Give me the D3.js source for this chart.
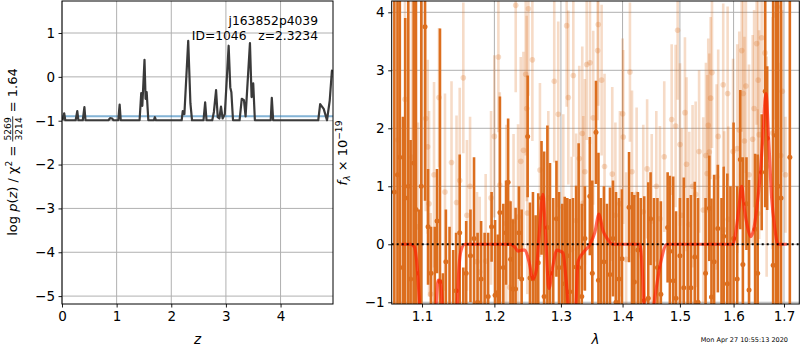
<!DOCTYPE html>
<html>
<head>
<meta charset="utf-8">
<script src="https://cdn.jsdelivr.net/npm/d3@7"></script>
<style>
  body { margin: 0; background: #fff; }
  svg text { font-family: "DejaVu Sans", sans-serif; fill: #000; }
</style>
</head>
<body>
<svg id="fig" width="800" height="350"></svg>
<script>
// ---- redshift probability, log p(z) ----
const zGrid = [0.01,0.04,0.06, 0.25,0.28,0.30, 0.38,0.41,0.43, 0.85,0.88,0.92,0.94,
  1.03,1.055,1.075, 1.42,1.45,1.47,1.51,1.53,1.55,1.58, 1.68,1.70,1.72,
  2.19,2.21,2.24,2.31,2.35,2.38, 2.59,2.62,2.645,
  2.75,2.78,2.82,2.85,2.88,2.91,2.94,2.98,3.05,3.08,3.10,3.13,
  3.25,3.29,3.33,3.36,3.44,3.47,3.50,3.53, 3.82,3.84,3.865,
  4.69,4.725,4.79,4.85,4.90,4.94,4.96];
const logPz = [-0.99,-0.83,-0.99, -0.99,-0.78,-0.99, -0.99,-0.69,-0.99, -0.99,-0.94,-0.95,-0.99,
  -0.99,-0.63,-0.99, -0.99,-0.37,-0.66,0.39,-0.50,-0.35,-0.99, -0.99,-0.92,-0.99,
  -0.99,-0.78,-0.85,0.82,-0.60,-0.99, -0.99,-0.58,-0.99,
  -0.99,-0.80,-0.30,-0.92,-0.95,-0.68,-0.95,-0.85,0.71,-0.24,-0.35,-0.99,
  -0.99,-0.50,-0.53,-0.90,0.77,-0.46,-0.15,-0.99, -0.99,-0.48,-0.99,
  -0.99,-0.62,-0.73,-0.99,-0.54,0.14,0.12];
const pzReference = -0.9;
const zTicks = [0, 1, 2, 3, 4];
const logPTicks = [1, 0, -1, -2, -3, -4, -5];

// ---- spectrum, first orientation (opaque) ----
const waveA = [1.064,1.068,1.071,1.075,1.078,1.082,1.085,1.089,1.092,1.096,1.099,1.104,1.108,1.112,1.117,1.120,
  1.124,1.128,1.132,1.137,1.142,1.146,1.151,1.156,1.160,1.166,1.171,1.176,1.181,1.186,1.191,1.196,
  1.201,1.205,1.208,1.213,1.217,1.220,1.2235,1.227,1.231,1.236,1.240,1.249,1.2525,1.257,1.261,1.265,
  1.270,1.274,1.279,1.283,1.288,1.293,1.297,1.302,1.306,1.310,1.314,1.319,1.324,1.328,1.333,1.338,
  1.346,1.350,1.356,1.360,1.364,1.369,1.374,1.379,1.384,1.389,1.394,1.399,1.411,1.416,1.420,1.426,
  1.431,1.437,1.444,1.448,1.454,1.460,1.466,1.478,1.482,1.488,1.493,1.500,1.507,1.514,1.520,1.527,
  1.533,1.547,1.554,1.558,1.563,1.570,1.577,1.581,1.588,1.594,1.600,1.607,1.613,1.618,1.625,1.630,
  1.642,1.647,1.655,1.662,1.666,1.678,1.684,1.688,1.694,1.712];
const fluxA = [0.9,1.2,1.5,-0.4,0.8,1.0,-0.6,1.4,0.6,-0.5,1.0,3.75,0.3,-0.5,-1.2,0.4,
  -0.64,-1.5,-0.3,-1.1,-1.3,-0.8,0.2,-1.4,-0.5,-0.2,0.1,-1.0,-0.6,-1.2,-0.9,0.3,
  -0.88,-0.83,0.55,-0.4,0.2,1.07,-0.26,-0.77,-0.77,0.2,-0.6,1.86,-0.58,-0.6,-1.3,-0.32,
  0.8,-0.9,0.29,-0.5,-1.2,0.44,-0.4,-1.1,-0.68,-0.2,-0.82,-1.3,-0.39,-0.4,-0.9,0.1,
  0.83,-0.5,1.93,-0.62,-1.2,-0.3,-1.1,-0.52,0.1,-1.0,-0.6,-0.25,0.64,-1.3,-0.65,-0.1,
  -1.5,-0.97,-0.93,0.44,-1.2,-0.4,-0.86,0.29,-0.12,-0.63,-0.93,-0.2,-0.75,-1.2,-0.75,-0.22,
  -1.0,-0.5,0.62,-0.91,-0.3,0.27,-1.1,0.14,-0.68,-1.2,0.1,-0.6,1.46,-0.35,0.70,-0.79,
  0.26,-0.5,1.24,2.64,1.83,-0.36,1.88,1.0,0.8,1.5];
const errA = [4.5,4.5,4.0,2.6,3.1,4.5,2.4,4.0,4.0,1.1,4.5,3.0,1.0,0.8,1.5,0.9,
  4.36,1.0,0.9,1.4,1.2,1.0,1.35,1.0,0.9,0.8,1.4,1.2,1.0,1.4,1.1,0.6,
  1.3,1.0,2.0,1.1,0.9,1.1,1.0,1.2,1.4,0.8,1.2,1.05,1.3,1.5,1.8,1.2,
  0.98,2.5,1.76,1.9,2.0,1.0,1.3,1.8,1.5,1.0,1.6,2.1,1.4,2.14,1.6,0.9,
  1.02,1.6,0.89,2.2,2.0,1.3,1.8,1.5,1.0,1.9,1.4,1.2,0.95,2.2,1.5,1.0,
  2.3,1.8,2.0,0.8,2.0,1.2,1.6,0.95,1.3,1.8,1.5,1.0,1.9,2.0,1.6,1.3,
  1.8,1.3,0.91,1.7,1.5,1.1,1.9,1.2,1.9,2.2,2.0,1.6,1.2,1.85,0.8,1.9,
  1.3,2.05,1.0,2.0,1.24,4.8,3.0,4.5,4.0,5.0];

// ---- spectrum, second orientation (translucent) ----
const waveB = [1.0687,1.0777,1.0868,1.0946,1.1049,1.1075,1.1093,1.1115,1.1160,1.1227,1.1308,1.1397,1.1466,1.1510,
  1.1560,1.1610,1.1654,1.1752,1.1790,1.1875,1.1952,1.2000,1.2058,1.2078,1.2174,1.2224,1.2280,1.2312,
  1.2347,1.2387,1.2427,1.2461,1.2476,1.2485,1.2501,1.2561,1.2676,1.2804,1.2896,1.2958,1.3037,1.3090,
  1.3116,1.3169,1.3195,1.3240,1.3290,1.3338,1.3354,1.3380,1.3409,1.3462,1.3515,1.3587,1.3597,1.3652,
  1.3700,1.3828,1.3880,1.3956,1.4002,1.4012,1.4060,1.4125,1.4160,1.4239,1.4353,1.4420,1.4500,1.4580,
  1.4644,1.4720,1.4852,1.4923,1.4959,1.5001,1.5031,1.5091,1.5120,1.5170,1.5230,1.5287,1.5350,1.5427,
  1.5477,1.5500,1.5520,1.5540,1.5565,1.5590,1.5677,1.5707,1.5802,1.5821,1.5886,1.5898,1.5990,1.6071,
  1.6110,1.6157,1.6187,1.6210,1.6239,1.6300,1.6371,1.6400,1.6450,1.6470,1.6481,1.6500,1.6549,1.6615,
  1.6649,1.6771,1.6832,1.6864,1.6933,1.6965,1.7030];
const fluxB = [1.8,2.5,1.5,0.3,2.17,1.68,0.70,-0.86,1.2,2.53,0.9,1.41,0.72,1.1,
  2.87,0.5,1.0,-0.3,-0.48,-0.29,0.8,1.86,3.23,1.02,0.36,-0.74,0.40,4.12,
  0.47,1.43,1.62,2.93,2.34,0.54,4.06,3.18,1.28,0.80,2.81,2.24,0.64,3.77,
  2.53,-0.09,2.91,0.41,1.48,1.91,0.71,1.25,3.10,3.13,2.18,3.34,3.79,2.83,
  1.34,1.21,0.5,0.70,2.25,1.85,-0.26,2.97,1.25,0.86,0.56,1.3,0.4,1.0,
  0.44,1.51,2.15,2.04,3.69,1.72,0.50,2.27,1.38,0.34,1.0,0.86,1.6,0.59,
  1.53,1.22,2.05,1.59,2.52,2.96,1.16,1.86,2.75,0.25,2.60,0.43,1.6,1.65,
  1.97,3.34,2.60,1.78,2.73,1.2,1.81,2.34,3.46,0.53,2.83,1.89,3.56,3.30,
  1.34,1.92,3.95,4.09,1.53,2.64,1.2];
const errB = [3.0,2.5,2.8,1.8,1.6,1.5,1.6,1.4,1.6,1.2,1.7,1.4,1.5,1.6,
  1.3,1.3,1.2,1.2,1.3,1.5,1.5,1.4,1.3,1.6,1.7,1.5,1.5,1.5,
  1.6,1.8,1.7,1.4,1.6,1.4,1.5,1.4,1.5,1.5,1.4,1.6,1.6,1.4,
  1.5,1.6,1.4,1.5,1.6,1.5,1.5,1.6,1.3,1.4,1.5,1.2,1.4,1.3,
  1.6,1.5,1.6,1.6,1.3,1.5,1.5,1.2,1.4,1.5,1.5,1.2,1.5,1.3,
  1.6,1.3,1.3,1.4,1.2,1.4,1.5,1.3,1.5,1.6,1.4,1.6,1.4,1.6,
  1.6,1.7,1.5,1.7,1.4,1.3,1.6,1.5,1.4,1.7,1.5,1.6,1.6,1.8,
  1.7,1.4,1.6,1.8,1.5,1.9,1.8,1.7,1.4,1.8,1.6,1.8,1.3,1.6,
  1.9,2.0,1.8,1.6,1.6,1.4,1.0];

// ---- best-fit model ----
const modelWave = [1.0725,1.085,1.090,1.094,1.098,1.104,1.112,1.118,1.1215,1.125,1.128,1.134,1.142,1.147,1.150,1.153,1.158,
  1.2228,1.230,1.2346,1.240,1.245,1.251,1.257,1.262,1.266,1.2722,1.276,1.2815,1.287,1.2939,1.299,1.3032,1.308,1.3142,1.3222,1.327,
  1.335,1.3462,1.354,1.3610,1.367,1.3741,1.3840,1.4296,1.434,1.4383,1.447,1.4557,1.466,1.4769,
  1.5988,1.604,1.610,1.6156,1.621,1.627,1.6332,1.639,1.645,1.651,1.657,1.6635,1.669,1.675,1.681,1.6877,1.706];
const modelFlux = [0.0,0.0,-0.05,-0.45,-1.3,-1.8,-1.6,-1.2,-0.62,-0.64,-1.3,-1.8,-1.7,-1.2,-0.4,-0.1,0.0,
  0.0,-0.05,-0.12,-0.1,-0.1,-0.3,-0.6,-0.45,0.1,0.86,0.2,-0.76,-0.4,-0.1,-0.12,-0.15,-0.6,-1.3,-1.3,-0.3,
  -0.15,0.0,0.2,0.52,0.25,0.1,0.0,0.0,-0.5,-1.3,-1.5,-0.9,-0.3,0.0,
  0.0,0.2,0.6,1.0,0.6,0.3,0.13,0.25,0.6,1.1,1.8,2.6,1.8,0.8,0.3,0.0,0.0];
const waveTicks = [1.1, 1.2, 1.3, 1.4, 1.5, 1.6, 1.7];
const fluxTicks = [-1, 0, 1, 2, 3, 4];

const specColor = "#dc6e1e";
const gridColor = "#b0b0b0";
const fs = 13.5;

const svg = d3.select("#fig");

// panel geometry
const L = { x0: 62, x1: 333, y0: 1, y1: 304 };
const R = { x0: 391.7, x1: 799.3, y0: 1, y1: 304 };

const xL = d3.scaleLinear().domain([0, 4.96]).range([L.x0, L.x1]);
const yL = d3.scaleLinear().domain([-5.18, 1.73]).range([L.y1, L.y0]);
const xR = d3.scaleLog().domain([1.0606, 1.7316]).range([R.x0, R.x1]);
const yR = d3.scaleLinear().domain([-1.03, 4.195]).range([R.y1, R.y0]);

const defs = svg.append("defs");
[["clipL", L], ["clipR", R]].forEach(([id, b]) => {
  defs.append("clipPath").attr("id", id).append("rect")
    .attr("x", b.x0).attr("y", b.y0).attr("width", b.x1 - b.x0).attr("height", b.y1 - b.y0);
});

const fmt = v => (v < 0 ? "\u2212" : "") + Math.abs(v);

function grid(g, xs, ys, xTicks, yTicks, b) {
  g.selectAll(".gx").data(xTicks).join("line")
    .attr("x1", d => xs(d)).attr("x2", d => xs(d)).attr("y1", b.y0).attr("y2", b.y1)
    .attr("stroke", gridColor).attr("stroke-width", 1);
  g.selectAll(".gy").data(yTicks).join("line")
    .attr("y1", d => ys(d)).attr("y2", d => ys(d)).attr("x1", b.x0).attr("x2", b.x1)
    .attr("stroke", gridColor).attr("stroke-width", 1);
}

function axes(xs, ys, xTicks, yTicks, b, xFmt) {
  const gx = svg.append("g").attr("transform", `translate(0,${b.y1})`)
    .call(d3.axisBottom(xs).tickValues(xTicks).tickSize(3.5).tickPadding(3.5).tickFormat(xFmt));
  const gy = svg.append("g").attr("transform", `translate(${b.x0},0)`)
    .call(d3.axisLeft(ys).tickValues(yTicks).tickSize(3.5).tickPadding(3.5).tickFormat(fmt));
  [gx, gy].forEach(g => {
    g.select(".domain").remove();
    g.selectAll("text").attr("font-size", fs).attr("font-family", "DejaVu Sans").attr("fill", "#000");
    g.selectAll("line").attr("stroke", "#000").attr("stroke-width", 0.9);
  });
  svg.append("rect").attr("x", b.x0).attr("y", b.y0)
    .attr("width", b.x1 - b.x0).attr("height", b.y1 - b.y0)
    .attr("fill", "none").attr("stroke", "#000").attr("stroke-width", 1);
}

// ================= left panel =================
const gL = svg.append("g");
grid(gL, xL, yL, zTicks, logPTicks, L);
const plotL = gL.append("g").attr("clip-path", "url(#clipL)");
plotL.append("line")
  .attr("x1", L.x0).attr("x2", L.x1).attr("y1", yL(pzReference)).attr("y2", yL(pzReference))
  .attr("stroke", "#1f77b4").attr("stroke-opacity", 0.55).attr("stroke-width", 2);
plotL.append("path")
  .datum(zGrid.map((z, i) => [z, logPz[i]]))
  .attr("d", d3.line().x(d => xL(d[0])).y(d => yL(d[1])))
  .attr("fill", "none").attr("stroke", "#3a3a3a").attr("stroke-width", 2.2)
  .attr("stroke-linejoin", "round");
axes(xL, yL, zTicks, logPTicks, L, d => String(d));

svg.append("text").attr("x", 318).attr("y", 25).attr("text-anchor", "end")
  .attr("font-size", 12.3).text("j163852p4039");
svg.append("text").attr("x", 318).attr("y", 40).attr("text-anchor", "end")
  .attr("font-size", 12.3).attr("xml:space", "preserve").text("ID=1046   z=2.3234");

// ================= right panel =================
const gR = svg.append("g");
grid(gR, xR, yR, waveTicks, fluxTicks, R);
const plotR = gR.append("g").attr("clip-path", "url(#clipR)");

function errorbars(g, wave, flux, err, opacity, r) {
  const pts = wave.map((w, i) => ({ w, f: flux[i], e: err[i] }));
  const layer = g.append("g");
  layer.selectAll("line").data(pts).join("line")
    .attr("x1", d => xR(d.w)).attr("x2", d => xR(d.w))
    .attr("y1", d => yR(d.f - d.e)).attr("y2", d => yR(d.f + d.e))
    .attr("stroke", specColor).attr("stroke-opacity", opacity).attr("stroke-width", 2.6);
  layer.selectAll("circle").data(pts).join("circle")
    .attr("cx", d => xR(d.w)).attr("cy", d => yR(d.f)).attr("r", r)
    .attr("fill", specColor).attr("fill-opacity", opacity);
}
errorbars(plotR, waveB, fluxB, errB, 0.25, 2.8);
errorbars(plotR, waveA, fluxA, errA, 1, 2.5);

plotR.append("path")
  .datum(modelWave.map((w, i) => [w, modelFlux[i]]))
  .attr("d", d3.line().x(d => xR(d[0])).y(d => yR(d[1])).curve(d3.curveMonotoneX))
  .attr("fill", "none").attr("stroke", "#ff1a00").attr("stroke-opacity", 0.65)
  .attr("stroke-width", 3.2).attr("stroke-linejoin", "round");

plotR.append("line")
  .attr("x1", R.x0).attr("x2", R.x1).attr("y1", yR(0)).attr("y2", yR(0))
  .attr("stroke", "#000").attr("stroke-width", 2).attr("stroke-dasharray", "2,3");

axes(xR, yR, waveTicks, fluxTicks, R, d3.format(".1f"));

// ================= axis labels =================
function mathLabel(parent, pieces, size) {
  const g = parent.append("g");
  let x = 0;
  pieces.forEach(p => {
    if (p.frac) {
      const s = size * 0.7;
      const num = g.append("text").attr("font-size", s).attr("y", -size * 0.45).text(p.frac[0]);
      const den = g.append("text").attr("font-size", s).attr("y", size * 0.42).text(p.frac[1]);
      const wn = num.node().getComputedTextLength(), wd = den.node().getComputedTextLength();
      const w = Math.max(wn, wd) + 2;
      num.attr("x", x + (w - wn) / 2);
      den.attr("x", x + (w - wd) / 2);
      g.append("line").attr("x1", x).attr("x2", x + w)
        .attr("y1", -size * 0.33).attr("y2", -size * 0.33)
        .attr("stroke", "#000").attr("stroke-width", 0.8);
      x += w;
    } else {
      const t = g.append("text").attr("x", x).attr("y", p.dy || 0)
        .attr("font-size", p.s ? size * p.s : size)
        .attr("font-style", p.i ? "italic" : null)
        .attr("xml:space", "preserve").text(p.t);
      x += t.node().getComputedTextLength();
    }
  });
  g.attr("transform", `translate(${-x / 2},0)`);
  return g;
}

const yLabL = svg.append("g").attr("transform", "translate(17,152) rotate(-90)");
mathLabel(yLabL, [
  { t: "log " }, { t: "p", i: true }, { t: "(" }, { t: "z", i: true }, { t: ") / " },
  { t: "\u03c7" }, { t: "2", s: 0.7, dy: -5 }, { t: " = " },
  { frac: ["5269", "3214"] }, { t: " = 1.64" }
], 13);

const yLabR = svg.append("g").attr("transform", "translate(347,153) rotate(-90)");
mathLabel(yLabR, [
  { t: "f", i: true }, { t: "\u03bb", i: true, s: 0.7, dy: 3 }, { t: " \u00d7 10" },
  { t: "\u221219", s: 0.7, dy: -5 }
], 13);

svg.append("text").attr("x", (L.x0 + L.x1) / 2).attr("y", 344).attr("text-anchor", "middle")
  .attr("font-size", fs).attr("font-style", "italic").text("z");
svg.append("text").attr("x", (R.x0 + R.x1) / 2).attr("y", 344).attr("text-anchor", "middle")
  .attr("font-size", fs).attr("font-style", "italic").text("\u03bb");

svg.append("text").attr("x", 788).attr("y", 342).attr("text-anchor", "end")
  .attr("font-size", 6.5).text("Mon Apr 27 10:55:13 2020");
</script>
</body>
</html>
